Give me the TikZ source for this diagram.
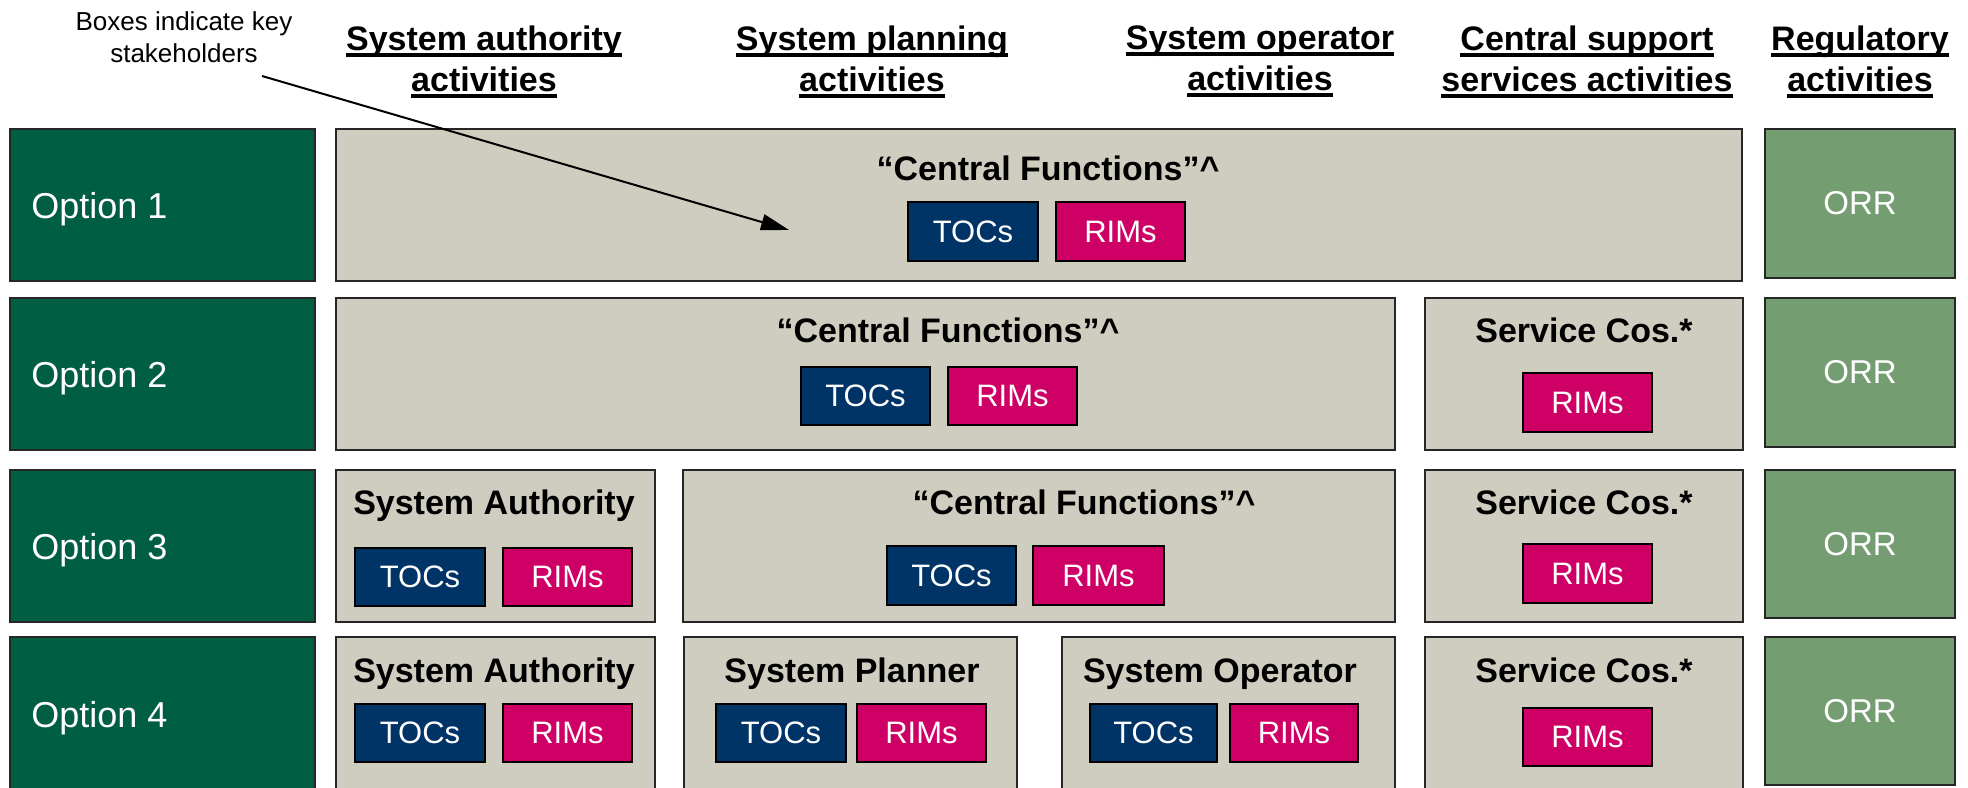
\documentclass[tikz,border=0pt]{standalone}
\usepackage{fontspec}
\setmainfont{Liberation Sans}
\usetikzlibrary{arrows.meta}

\definecolor{optgreen}{RGB}{0,94,66}
\definecolor{panelgrey}{RGB}{207,205,192}
\definecolor{tocblue}{RGB}{0,51,102}
\definecolor{rimpink}{RGB}{206,0,102}
\definecolor{orrgreen}{RGB}{116,158,113}

% underlined line of a column heading; the rule sits at a fixed depth
\newcommand\hul[1]{\setbox0\hbox{#1}\rlap{\rule[-3.4pt]{\wd0}{1.75pt}}\box0}
% a rectangle spanning two corners (in half-points), with centred text
\newcommand\bx[7]{%
  \pgfmathsetmacro\bxw{(#5-#3)*0.5}%
  \pgfmathsetmacro\bxh{(#6-#4)*0.5}%
  \node[#1, minimum width=\bxw pt, minimum height=\bxh pt] (#2) at ({(#3+#5)/2},{(#4+#6)/2}) {#7};}

\tikzset{
  frame/.style={draw=black!85, line width=0.9pt, inner sep=0pt, outer sep=0pt},
  optbox/.style={frame, fill=optgreen},
  panel/.style={frame, fill=panelgrey},
  orrbox/.style={frame, fill=orrgreen, text=white, font=\fontsize{16.5}{19}\selectfont},
  tocbox/.style={frame, draw=black, fill=tocblue, text=white, font=\fontsize{15.5}{18}\selectfont},
  rimbox/.style={frame, draw=black, fill=rimpink, text=white, font=\fontsize{15.5}{18}\selectfont},
  optlbl/.style={anchor=base west, inner sep=0pt, text=white, font=\fontsize{18}{21}\selectfont},
  ttl/.style={anchor=base, inner sep=0pt, font=\bfseries\fontsize{17}{20}\selectfont},
  hdr/.style={anchor=north, inner sep=0pt, align=center, font=\bfseries\fontsize{17}{20.5}\selectfont},
  note/.style={anchor=north, inner sep=0pt, align=center, font=\fontsize{13}{16}\selectfont},
  pointer/.style={line width=1pt, -{Triangle[length=14pt,width=8pt]}},
}

\begin{document}
\begin{tikzpicture}[x=0.5pt, y=-0.5pt]
\useasboundingbox (0,0) rectangle (1968,787);
\clip (0,0) rectangle (1968,787);

% column headings
\node[hdr] (hA) at (484,25) {\hul{System authority}\\\hul{activities}};
\node[hdr] (hP) at (872,25) {\hul{System planning}\\\hul{activities}};
\node[hdr] (hO) at (1260,25) {\hul{System operator}\\\hul{activities}};
\node[hdr] (hC) at (1587,25) {\hul{Central support}\\\hul{services activities}};
\node[hdr] (hR) at (1860,25) {\hul{Regulatory}\\\hul{activities}};

\node[note] (note) at (184,11) {Boxes indicate key\\stakeholders};

% option labels
\bx{optbox}{o1}{10}{129}{315}{281}{}
\bx{optbox}{o2}{10}{298}{315}{450}{}
\bx{optbox}{o3}{10}{470}{315}{622}{}
\bx{optbox}{o4}{10}{637}{315}{800}{}
\node[optlbl] (l1) at (31,218) {Option 1};
\node[optlbl] (l2) at (31,387) {Option 2};
\node[optlbl] (l3) at (31,559) {Option 3};
\node[optlbl] (l4) at (31,727) {Option 4};

% regulator
\bx{orrbox}{r1}{1765}{129}{1955}{278}{ORR}
\bx{orrbox}{r2}{1765}{298}{1955}{447}{ORR}
\bx{orrbox}{r3}{1765}{470}{1955}{618}{ORR}
\bx{orrbox}{r4}{1765}{637}{1955}{785}{ORR}

% Option 1
\bx{panel}{c1}{336}{129}{1742}{281}{}
\node[ttl] (c1t) at (1048,180) {“Central Functions”\textasciicircum};
\bx{tocbox}{c1toc}{908}{202}{1038}{261}{TOCs}
\bx{rimbox}{c1rim}{1056}{202}{1185}{261}{RIMs}

% Option 2
\bx{panel}{c2}{336}{298}{1395}{450}{}
\node[ttl] (c2t) at (948,342) {“Central Functions”\textasciicircum};
\bx{tocbox}{c2toc}{801}{367}{930}{425}{TOCs}
\bx{rimbox}{c2rim}{948}{367}{1077}{425}{RIMs}
\bx{panel}{s2}{1425}{298}{1743}{450}{}
\node[ttl] (s2t) at (1584,342) {Service Cos.*};
\bx{rimbox}{s2rim}{1523}{373}{1652}{432}{RIMs}

% Option 3
\bx{panel}{a3}{336}{470}{655}{622}{}
\node[ttl] (a3t) at (494,514) {System Authority};
\bx{tocbox}{a3toc}{355}{548}{485}{606}{TOCs}
\bx{rimbox}{a3rim}{503}{548}{632}{606}{RIMs}
\bx{panel}{c3}{683}{470}{1395}{622}{}
\node[ttl] (c3t) at (1084,514) {“Central Functions”\textasciicircum};
\bx{tocbox}{c3toc}{887}{546}{1016}{605}{TOCs}
\bx{rimbox}{c3rim}{1033}{546}{1164}{605}{RIMs}
\bx{panel}{s3}{1425}{470}{1743}{622}{}
\node[ttl] (s3t) at (1584,514) {Service Cos.*};
\bx{rimbox}{s3rim}{1523}{544}{1652}{603}{RIMs}

% Option 4
\bx{panel}{a4}{336}{637}{655}{800}{}
\node[ttl] (a4t) at (494,682) {System Authority};
\bx{tocbox}{a4toc}{355}{704}{485}{762}{TOCs}
\bx{rimbox}{a4rim}{503}{704}{632}{762}{RIMs}
\bx{panel}{p4}{684}{637}{1017}{800}{}
\node[ttl] (p4t) at (852,682) {System Planner};
\bx{tocbox}{p4toc}{716}{704}{846}{762}{TOCs}
\bx{rimbox}{p4rim}{857}{704}{986}{762}{RIMs}
\bx{panel}{op4}{1062}{637}{1395}{800}{}
\node[ttl] (op4t) at (1220,682) {System Operator};
\bx{tocbox}{op4toc}{1090}{704}{1217}{762}{TOCs}
\bx{rimbox}{op4rim}{1230}{704}{1358}{762}{RIMs}
\bx{panel}{s4}{1425}{637}{1743}{800}{}
\node[ttl] (s4t) at (1584,682) {Service Cos.*};
\bx{rimbox}{s4rim}{1523}{708}{1652}{766}{RIMs}

% pointer from the note into the first panel
\coordinate (tail) at (262,76);
\coordinate (tip) at (789,230);
\draw[pointer] (tail) -- (tip);
\end{tikzpicture}
\end{document}
